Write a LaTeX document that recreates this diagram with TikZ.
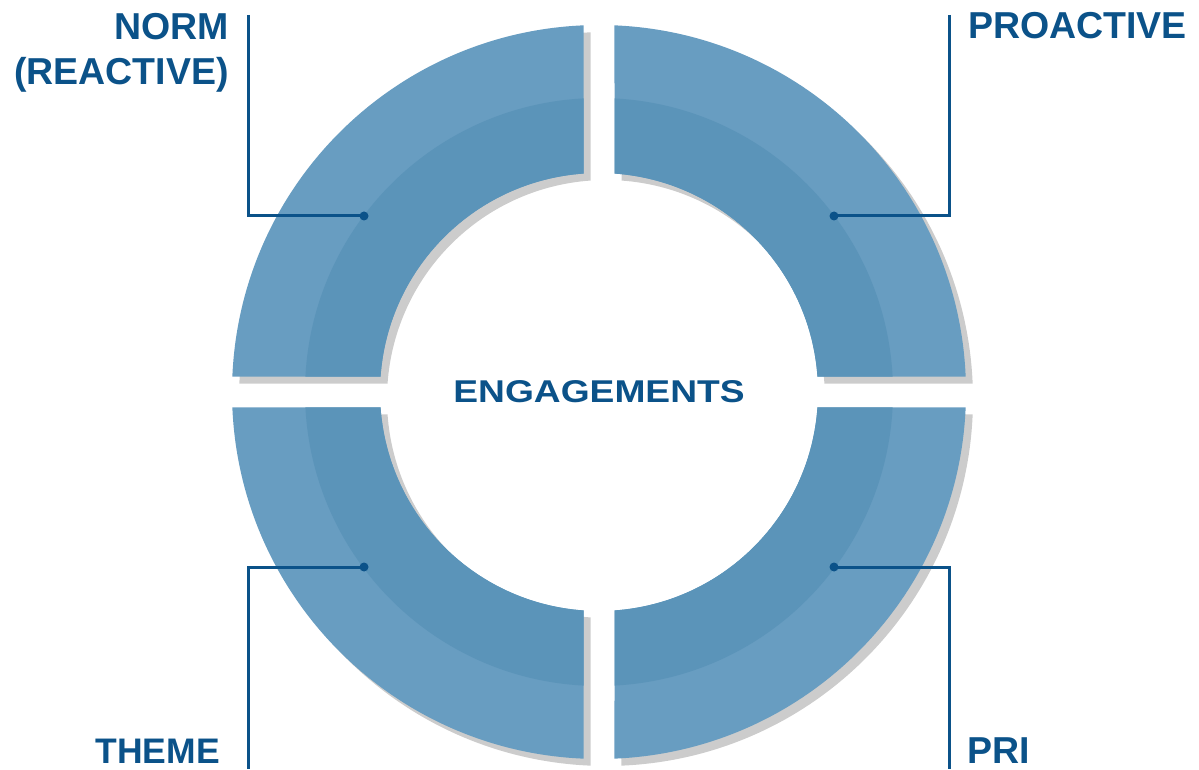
\documentclass[tikz,border=0pt]{standalone}
\usepackage{fontspec}
\setmainfont{Liberation Sans}
\definecolor{ringlight}{HTML}{689DC1}
\definecolor{ringdark}{HTML}{5B94B9}
\definecolor{navy}{HTML}{0B5289}
\definecolor{shadowgray}{HTML}{CCCCCC}
\tikzset{
  lbl/.style={font=\bfseries\fontsize{37.5}{45}\selectfont, text=navy, inner sep=0pt},
  leader/.style={draw=navy, line width=3pt},
  dotnode/.style={circle, fill=navy, inner sep=0pt, minimum size=9pt},
}
\newcommand{\ringpiece}[2]{%
  ({asin(15.5/#2)}:#2pt) arc[start angle={asin(15.5/#2)}, end angle={90-asin(15.5/#2)}, radius=#2pt]
  -- ({90-asin(15.5/#1)}:#1pt) arc[start angle={90-asin(15.5/#1)}, end angle={asin(15.5/#1)}, radius=#1pt] -- cycle}
\begin{document}
\begin{tikzpicture}[x=1pt,y=1pt]
\useasboundingbox (0,0) rectangle (1199,769);
% shadows
\foreach \r in {0,90,180,270}{
  \begin{scope}[shift={(606,370)}, rotate=\r]
    \fill[shadowgray] \ringpiece{219}{367};
  \end{scope}
}
% ring pieces
\foreach \r in {0,90,180,270}{
  \begin{scope}[shift={(599,377)}, rotate=\r]
    \fill[ringlight] \ringpiece{219}{367};
    \fill[ringdark] \ringpiece{219}{294};
  \end{scope}
}
% dots
\node[dotnode] (d1) at (364,553) {};
\node[dotnode] (d2) at (834,553) {};
\node[dotnode] (d3) at (364,202) {};
\node[dotnode] (d4) at (834,202) {};
% corners and ends
\coordinate (t1) at (248,754);
\coordinate (c1) at (248,553);
\coordinate (t2) at (949,754);
\coordinate (c2) at (949,553);
\coordinate (c3) at (248,202);
\coordinate (b3) at (248,0);
\coordinate (c4) at (949,202);
\coordinate (b4) at (949,0);
\draw[leader] (t1) -- (c1) -- (d1.center);
\draw[leader] (t2) -- (c2) -- (d2.center);
\draw[leader] (d3.center) -- (c3) -- (b3);
\draw[leader] (d4.center) -- (c4) -- (b4);
% labels
\node[lbl, align=right, anchor=base east] (norm) at (229,684) {NORM\\(REACTIVE)};
\node[lbl, anchor=base west] (pro) at (968,730) {PROACTIVE};
\node[lbl, font=\bfseries\fontsize{35.5}{42}\selectfont, anchor=base east] (theme) at (220,6) {THEME};
\node[lbl, anchor=base west] (pri) at (967,6) {PRI};
\node[font=\bfseries\fontsize{31.5}{36}\selectfont, text=navy, inner sep=0pt, anchor=base] (eng) at (599,366) {\scalebox{1.18}[1]{ENGAGEMENTS}};
\end{tikzpicture}
\end{document}
